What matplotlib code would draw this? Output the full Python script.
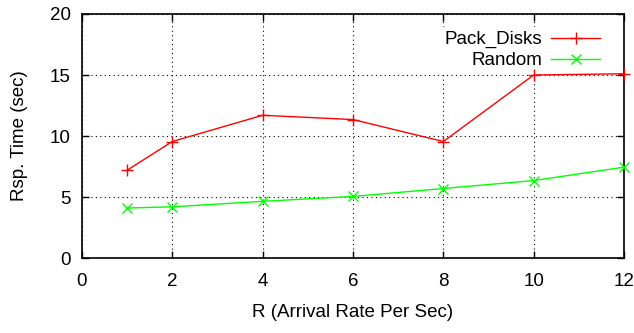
import matplotlib
matplotlib.use("Agg")
import matplotlib.pyplot as plt

rates = [1, 2, 4, 6, 8, 10, 12]
pack_disks = [7.2, 9.55, 11.7, 11.35, 9.55, 15.0, 15.1]
random_place = [4.1, 4.2, 4.65, 5.05, 5.7, 6.35, 7.45]

x_ticks = [0, 2, 4, 6, 8, 10, 12]
y_ticks = [0, 5, 10, 15, 20]

plt.rcParams["font.family"] = ["Liberation Sans", "DejaVu Sans"]
fs = 13.5

fig = plt.figure(figsize=(6.34, 3.33), dpi=100)
ax = fig.add_axes([0.1293, 0.225, 0.8549, 0.733])

ax.plot(rates, pack_disks, color="#ff0000", marker="+", markersize=9,
        markeredgewidth=1, linewidth=1, label="Pack_Disks", clip_on=False, zorder=3)
ax.plot(rates, random_place, color="#00ff00", marker="x", markersize=7,
        markeredgewidth=1, linewidth=1, label="Random", clip_on=False, zorder=3)

ax.set_xlim(0, 12)
ax.set_ylim(0, 20)
ax.set_xticks(x_ticks)
ax.set_yticks(y_ticks)
ax.tick_params(direction="in", top=True, right=True, length=5, width=1,
               labelsize=fs)
ax.tick_params(axis="x", pad=11)
ax.tick_params(axis="y", pad=8)
ax.grid(True, color="black", linestyle=(0, (1, 3)), linewidth=0.8)
ax.set_axisbelow(True)
for s in ax.spines.values():
    s.set_linewidth(1.2)

ax.set_xlabel("R (Arrival Rate Per Sec)", fontsize=fs, labelpad=10)
ax.set_ylabel("Rsp. Time (sec)", fontsize=fs, labelpad=16)

leg = ax.legend(loc="upper right", bbox_to_anchor=(0.963, 0.945),
                markerfirst=False, fontsize=fs,
                frameon=True, fancybox=False, framealpha=1, edgecolor="white",
                handlelength=2.6, handletextpad=0.5, labelspacing=0.2,
                borderpad=0.2, borderaxespad=0)
leg.get_frame().set_linewidth(0)
leg.set_zorder(2)

fig.savefig("out.png", dpi=100)
